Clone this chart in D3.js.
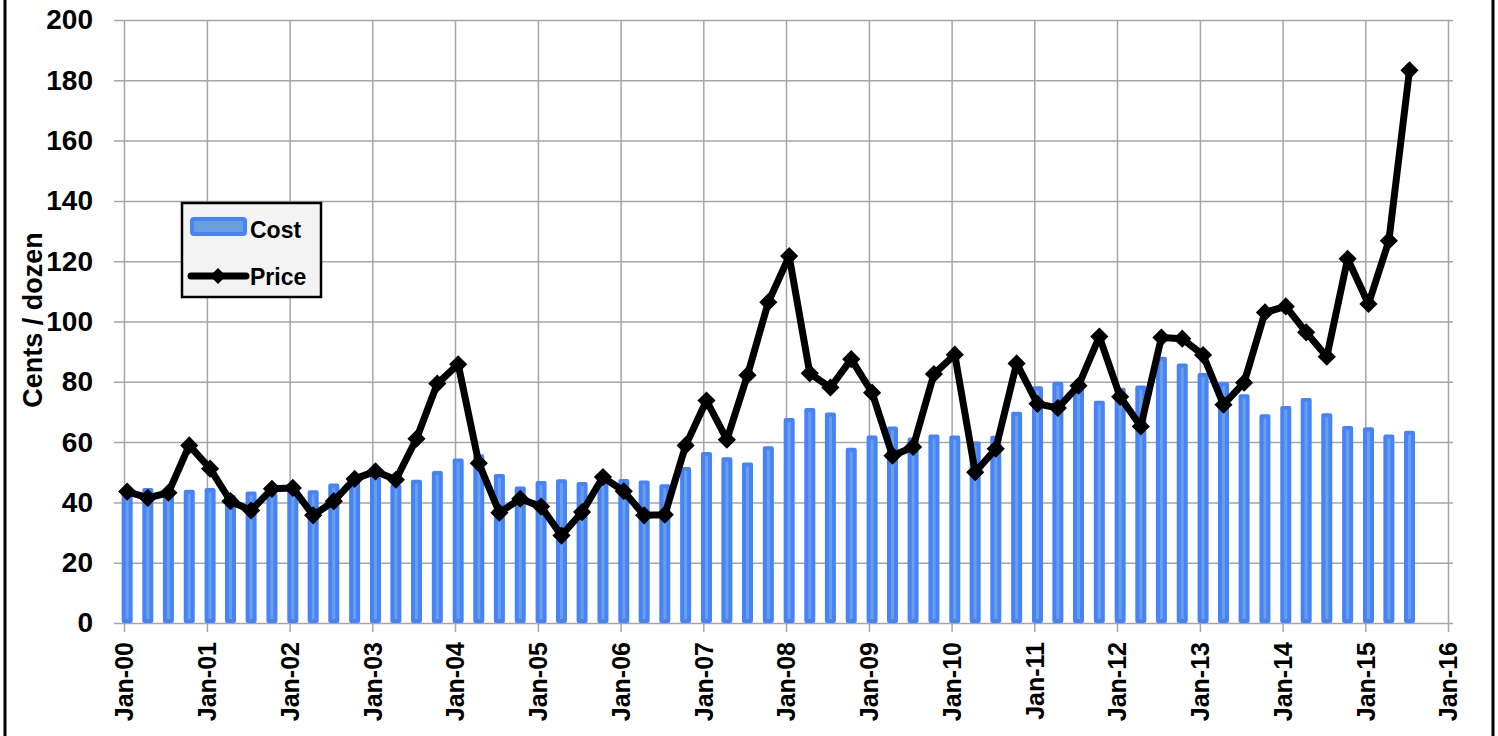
<!DOCTYPE html>
<html>
<head>
<meta charset="utf-8">
<script src="https://cdn.jsdelivr.net/npm/d3@7"></script>
<style>
  body { margin: 0; background: #fff; }
  svg { display: block; }
  text { font-family: "Liberation Sans", Arial, sans-serif; font-weight: bold; fill: #000; }
</style>
</head>
<body>
<div id="chart"></div>
<script>
// quarterly, Jan-00 .. Jul-15 (cents / dozen)
var cost = [43, 44.8, 43, 44.2, 44.8, 42.5, 43.6, 43, 44, 44,
  46.3, 47, 48.7, 46, 47.5, 50.4, 54.6, 56, 49.4, 45.3,
  47.1, 47.7, 46.8, 47, 47.8, 47.3, 46, 51.7, 56.7, 55,
  53.2, 58.6, 68, 71.3, 69.8, 58.1, 62.2, 65.2, 61.5, 62.5,
  62.2, 60.2, 62.1, 70.1, 78.5, 80, 78, 73.7, 78, 78.8,
  88.3, 86.1, 82.9, 79.9, 75.9, 69.2, 72, 74.6, 69.6, 65.3,
  64.9, 62.5, 63.8];
var price = [43.6, 41.5, 43.2, 58.9, 51.2, 40.4, 37.3, 44.5, 44.8, 35.7,
  40.4, 47.8, 50.3, 47.5, 61.1, 79.4, 85.8, 53, 36.6, 41.2,
  38.6, 29, 36.8, 48.4, 43.7, 35.7, 35.9, 58.9, 73.8, 60.8,
  82.2, 106.4, 121.7, 82.8, 78.1, 87.5, 76.4, 55.5, 58.4, 82.6,
  89, 50, 57.8, 86.1, 72.7, 71.3, 78.7, 95, 75, 65.2,
  94.7, 94.3, 88.9, 72.4, 79.7, 103, 105, 96.4, 88.3, 120.8,
  105.8, 126.8, 183.3];
var yTicks = [0, 20, 40, 60, 80, 100, 120, 140, 160, 180, 200];
var seriesNames = ["Cost", "Price"];

// quarter dates (mid month)
var dates = d3.timeMonth.every(3).range(new Date(2000, 0, 1), new Date(2015, 9, 1))
  .map(d => new Date(d.getFullYear(), d.getMonth(), 15));
var data = dates.map((d, i) => ({date: d, cost: cost[i], price: price[i]}));

var W = 1498, H = 736;
var svg = d3.select("#chart").append("svg").attr("width", W).attr("height", H);

var x = d3.scaleTime().domain([new Date(2000, 0, 1), new Date(2016, 0, 1)]).range([124, 1448]);
var y = d3.scaleLinear().domain([0, 200]).range([623, 20]);

// outer frame (cropped top/bottom)
svg.append("line").attr("x1", 5).attr("x2", 5).attr("y1", 0).attr("y2", H).attr("stroke", "#000").attr("stroke-width", 3);
svg.append("line").attr("x1", 1493).attr("x2", 1493).attr("y1", 0).attr("y2", H).attr("stroke", "#000").attr("stroke-width", 3);

// horizontal gridlines + y labels
var yAxis = d3.axisLeft(y).tickValues(yTicks).tickSize(0).tickPadding(22);
var gy = svg.append("g").attr("transform", "translate(114,0)").call(yAxis);
gy.select(".domain").remove();
gy.selectAll(".tick line").attr("x1", 0).attr("x2", 1453 - 114).attr("stroke", "#a6a6a6").attr("stroke-width", 1.5);
gy.selectAll(".tick text").attr("x", -21).style("font-size", "28px").style("font-family", "Liberation Sans, Arial, sans-serif").style("font-weight", "bold").attr("fill", "#000");

// vertical gridlines + x labels
var years = d3.timeYear.range(new Date(2000, 0, 1), new Date(2016, 0, 2));
var xAxis = d3.axisBottom(x).tickValues(years).tickFormat(d3.timeFormat("%b-%y")).tickSize(10).tickPadding(8);
var gx = svg.append("g").attr("transform", "translate(0,622)").call(xAxis);
gx.select(".domain").remove();
gx.selectAll(".tick line").attr("y1", -602).attr("y2", 10).attr("stroke", "#a6a6a6").attr("stroke-width", 1.5);
gx.selectAll(".tick text")
  .attr("transform", "rotate(-90)")
  .attr("x", -20).attr("y", 0).attr("dy", "0.35em")
  .style("text-anchor", "end")
  .style("font-size", "25px").style("font-family", "Liberation Sans, Arial, sans-serif").style("font-weight", "bold").attr("fill", "#000");

// bars
svg.append("g").selectAll("rect").data(data).enter().append("rect")
  .attr("x", d => x(d.date) - 3.5)
  .attr("width", 7)
  .attr("y", d => y(d.cost) + 2)
  .attr("height", d => y(0) - y(d.cost) - 4)
  .attr("fill", "#6b9fe4")
  .attr("stroke", "#4683f8")
  .attr("stroke-width", 4)
  .attr("stroke-linejoin", "round");

// price line
var line = d3.line().x(d => x(d.date)).y(d => y(d.price));
svg.append("path").datum(data).attr("d", line)
  .attr("fill", "none").attr("stroke", "#000").attr("stroke-width", 7).attr("stroke-linejoin", "round");
var diamond = d3.symbol().type(d3.symbolSquare).size(165);
svg.append("g").selectAll("path").data(data).enter().append("path")
  .attr("d", diamond)
  .attr("transform", d => "translate(" + x(d.date) + "," + y(d.price) + ") rotate(45)")
  .attr("fill", "#000");

// y title
svg.append("text")
  .attr("transform", "translate(42,320) rotate(-90)")
  .attr("text-anchor", "middle")
  .style("font-size", "27px")
  .text("Cents / dozen");

// legend
var lg = svg.append("g");
lg.append("rect").attr("x", 182).attr("y", 203).attr("width", 139).attr("height", 94)
  .attr("fill", "#f3f3f3").attr("stroke", "#000").attr("stroke-width", 2.5);
lg.append("rect").attr("x", 192).attr("y", 219).attr("width", 53).attr("height", 15).attr("rx", 2)
  .attr("fill", "#6a9fdc").attr("stroke", "#4784f8").attr("stroke-width", 4);
lg.append("text").attr("x", 250).attr("y", 238).style("font-size", "23px").text(seriesNames[0]);
lg.append("line").attr("x1", 191).attr("x2", 246).attr("y1", 276).attr("y2", 276)
  .attr("stroke", "#000").attr("stroke-width", 7).attr("stroke-linecap", "round");
lg.append("path").attr("d", d3.symbol().type(d3.symbolSquare).size(130))
  .attr("transform", "translate(218,276) rotate(45)").attr("fill", "#000");
lg.append("text").attr("x", 250).attr("y", 285).style("font-size", "23px").text(seriesNames[1]);
</script>
</body>
</html>
